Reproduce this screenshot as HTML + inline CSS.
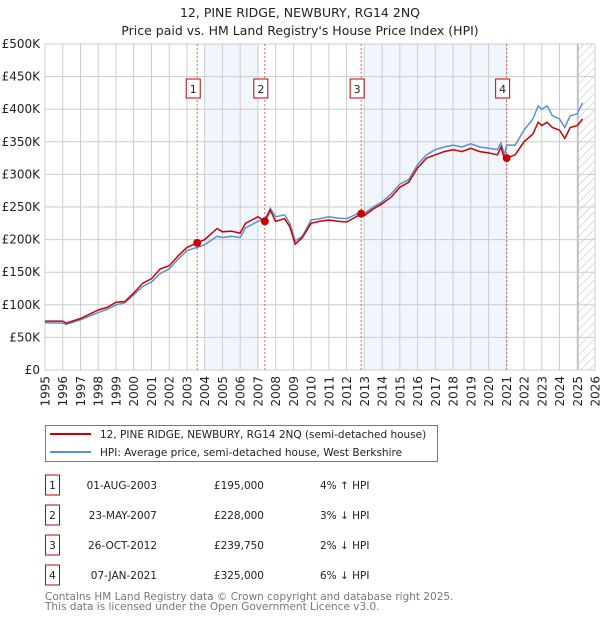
<!DOCTYPE html>
<html><head><meta charset="utf-8"><style>
body{margin:0;background:#fff;font-family:"Liberation Sans","DejaVu Sans",sans-serif;}
svg text{font-family:"DejaVu Sans","Liberation Sans",sans-serif;}
</style></head><body>
<svg id="chart" width="600" height="620" viewBox="0 0 600 620" xmlns="http://www.w3.org/2000/svg">
<defs><pattern id="hatch" width="6" height="6" patternUnits="userSpaceOnUse" patternTransform="rotate(45)"><line x1="0" y1="0" x2="0" y2="6" stroke="#bbb" stroke-width="1"/></pattern></defs>
<text x="300" y="17" text-anchor="middle" font-size="12.5" fill="#222">12, PINE RIDGE, NEWBURY, RG14 2NQ</text>
<text x="300" y="35" text-anchor="middle" font-size="12.5" fill="#222">Price paid vs. HM Land Registry's House Price Index (HPI)</text>
<g id="plot"></g>
<g id="legend">
<rect x="45.5" y="425.5" width="392" height="36" fill="#fff" stroke="#777"/>
<line x1="50" y1="434" x2="91" y2="434" stroke="#cc0000" stroke-width="2"/>
<text x="100" y="438" font-size="10.5" fill="#222">12, PINE RIDGE, NEWBURY, RG14 2NQ (semi-detached house)</text>
<line x1="50" y1="452" x2="91" y2="452" stroke="#5b8fd4" stroke-width="2"/>
<text x="100" y="456" font-size="10.5" fill="#222">HPI: Average price, semi-detached house, West Berkshire</text>
</g>
<g id="table" font-size="10.5" fill="#222"></g>
<text x="45" y="600" font-size="10.5" fill="#777">Contains HM Land Registry data © Crown copyright and database right 2025.</text>
<text x="45" y="610" font-size="10.5" fill="#777">This data is licensed under the Open Government Licence v3.0.</text>
</svg>
<script>
const hpiYears=[1995,1996,1996.2,1997,1998,1998.5,1999,1999.5,2000,2000.5,2001,2001.5,2002,2002.5,2003,2003.58,2004,2004.7,2005,2005.5,2006,2006.3,2007,2007.4,2007.7,2008,2008.5,2008.8,2009.1,2009.5,2010,2010.5,2011,2011.5,2012,2012.8,2013,2013.5,2014,2014.5,2015,2015.5,2016,2016.5,2017,2017.5,2018,2018.5,2019,2019.5,2020,2020.5,2020.7,2020.9,2021.02,2021.5,2022,2022.5,2022.8,2023,2023.3,2023.6,2024,2024.3,2024.6,2025,2025.3];
const hpiValues=[72.5,72,70,77,88,93,100,103,115,128,135,148,155,170,183,188,192,205,203,205,203,218,228,232,248,235,238,225,198,205,230,232,235,233,232,242,240,250,258,270,285,292,315,330,338,342,345,342,347,342,340,338,348,330,345,345,368,385,405,400,405,390,385,372,390,393,410];
const priceValues=[75,75,72,79,92,96,104,105,118,133,140,155,160,175,188,195,200,217,212,213,210,225,235,228,245,228,232,220,193,203,225,228,230,228,227,239,237,247,255,265,280,288,310,325,330,335,338,335,340,335,333,330,342,323,325,330,350,362,380,375,380,372,368,355,372,375,385];
const saleYears=[2003.58,2007.39,2012.82,2021.02];
const salePrices=[195,228,239.75,325];
const saleDates=["01-AUG-2003","23-MAY-2007","26-OCT-2012","07-JAN-2021"];
const salePriceLabels=["£195,000","£228,000","£239,750","£325,000"];
const saleHpiLabels=["4% ↑ HPI","3% ↓ HPI","2% ↓ HPI","6% ↓ HPI"];
const yTicks=[0,50,100,150,200,250,300,350,400,450,500];
const yTickLabels=["£0","£50K","£100K","£150K","£200K","£250K","£300K","£350K","£400K","£450K","£500K"];
const xTicks=[1995,1996,1997,1998,1999,2000,2001,2002,2003,2004,2005,2006,2007,2008,2009,2010,2011,2012,2013,2014,2015,2016,2017,2018,2019,2020,2021,2022,2023,2024,2025,2026];
const shades=[[2004,2007.05],[2013.05,2020.95]];
const hatchStart=2025.04;

const NS="http://www.w3.org/2000/svg";
const X0=45,X1=595,Y0=370,Y1=44;
const xs=v=>X0+(v-1995)/(2026-1995)*(X1-X0);
const ys=v=>Y0-v/500*(Y0-Y1);
const plot=document.getElementById('plot');
function mk(tag,attrs,parent){const e=document.createElementNS(NS,tag);for(const k in attrs)e.setAttribute(k,attrs[k]);(parent||plot).appendChild(e);return e;}

shades.forEach(s=>{const r=mk('rect',{x:xs(s[0]),y:Y1,width:xs(s[1])-xs(s[0]),height:Y0-Y1,fill:'#eef3fc',opacity:0.8});

});
const h=mk('rect',{x:xs(hatchStart),y:Y1,width:X1-xs(hatchStart),height:Y0-Y1,fill:'url(#hatch)'});


mk('line',{x1:xs(hatchStart),y1:Y1,x2:xs(hatchStart),y2:Y0,stroke:'#999','stroke-width':1});

yTicks.forEach((t,i)=>{mk('line',{x1:X0,x2:X1,y1:ys(t),y2:ys(t),stroke:'#ccc','stroke-width':1});
const tx=mk('text',{x:40,y:ys(t)+4,'text-anchor':'end','font-size':12,fill:'#222'});tx.textContent=yTickLabels[i];

});
xTicks.forEach(t=>{mk('line',{x1:xs(t),x2:xs(t),y1:Y1,y2:Y0,stroke:'#ccc','stroke-width':1});
const tx=mk('text',{x:0,y:0,'text-anchor':'end','font-size':12,fill:'#222',transform:`translate(${xs(t)+4.5},376) rotate(-90)`});tx.textContent=t;

});

saleYears.forEach((y,i)=>{mk('line',{x1:xs(y),x2:xs(y),y1:Y1,y2:Y0,stroke:'#e06070','stroke-width':1,'stroke-dasharray':'2,2'});
const g=mk('g',{});


mk('rect',{x:xs(y)-11,y:79,width:14,height:19,fill:'#fff',stroke:'#b00','stroke-width':1},g);
const t=mk('text',{x:xs(y)-4,y:93,'text-anchor':'middle','font-size':11,fill:'#222'},g);t.textContent=i+1;});

function pathOf(xv,yv){return xv.map((x,i)=>(i?'L':'M')+xs(x).toFixed(1)+','+ys(yv[i]).toFixed(1)).join('');}
const hp=mk('path',{d:pathOf(hpiYears,hpiValues),fill:'none',stroke:'#5b8fd4','stroke-width':1.5});


const pp=mk('path',{d:pathOf(hpiYears,priceValues),fill:'none',stroke:'#cc0000','stroke-width':1.5});


saleYears.forEach((y,i)=>{const c=mk('circle',{cx:xs(y),cy:ys(salePrices[i]),r:4,fill:'#cc0000'});

});

const tbl=document.getElementById('table');
saleDates.forEach((d,i)=>{const y=485+i*30;
const g=mk('g',{},tbl);


mk('rect',{x:45.5,y:y-10,width:14,height:20,fill:'#fff',stroke:'#b00'},g);
const n=mk('text',{x:52.5,y:y+4,'text-anchor':'middle'},g);n.textContent=i+1;
const a=mk('text',{x:157,y:y+4,'text-anchor':'end'},g);a.textContent=d;
const b=mk('text',{x:264,y:y+4,'text-anchor':'end'},g);b.textContent=salePriceLabels[i];
const c=mk('text',{x:320,y:y+4},g);c.textContent=saleHpiLabels[i];});
</script>
</body></html>
